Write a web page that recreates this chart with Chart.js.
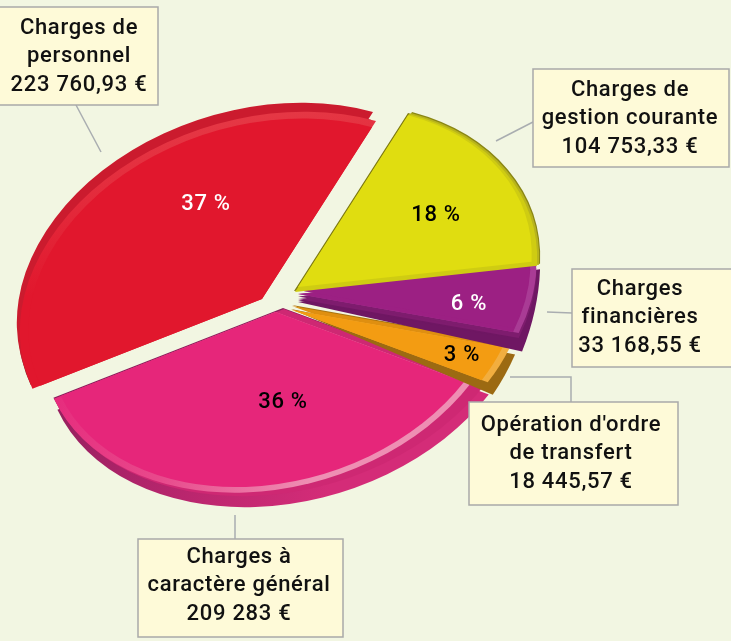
<!DOCTYPE html>
<html lang="fr">
<head>
<meta charset="utf-8">
<title>Charges</title>
<script src="https://cdn.jsdelivr.net/npm/chart.js@4"></script>
<style>
  html, body { margin: 0; padding: 0; background: #f2f6e2; }
  canvas { display: block; }
</style>
</head>
<body>
<canvas id="pie" width="731" height="641"></canvas>
<script>
// Data, clockwise from the yellow slice
const categories = ['Charges de gestion courante', 'Charges financières', "Opération d'ordre de transfert", 'Charges à caractère général', 'Charges de personnel'];
const amounts = [104753.33, 33168.55, 18445.57, 209283, 223760.93];
const percents = ['18 %', '6 %', '3 %', '36 %', '37 %'];
const amountLabels = ['104 753,33 €', '33 168,55 €', '18 445,57 €', '209 283 €', '223 760,93 €'];
const boxLines = [
    ['Charges de', 'gestion courante'],
    ['Charges', 'financières'],
    ["Opération d'ordre", 'de transfert'],
    ['Charges à', 'caractère général'],
    ['Charges de', 'personnel'],
];

// Perspective of the disc: where the unit circle lands on screen
const RIM = [213.7, 57.8, -114, 178];
const APEX = [[295, 292], [298, 299], [292, 306], [284, 309], [262, 299]];
const DRAW_ORDER = [4, 3, 2, 1, 0];

// Stacked layers per slice, painted back to front
const LAYERS = [
    [ // yellow
        { dx: -1, dy: -1, fill: '#7f7b12' },
        { dx: 3, dy: -2, fill: '#8a8614' },
        { dx: 2, dy: -1, fill: '#b8b41c' },
        { fill: '#cfcc12' },
        { dx: 3, dy: -5, s: 0.965, fill: '#e0dd10' },
    ],
    [ // purple
        { dy: 3, sy: 1.25, fill: '#6f1763' },
        { dy: 1.5, s: 0.9, fill: '#6f1763' },
        { s: 0.985, fill: '#7e1c6e' },
        { dy: -2.5, s: 0.9, fill: '#7e1c6e' },
        { dy: -5, s: 0.985, fill: '#a93b95' },
        { dy: -9, s: 0.985, fill: '#a93b95' },
        { dy: -5, s: 0.96, fill: '#9c2083' },
        { dy: -9, s: 0.96, fill: '#9c2083' },
    ],
    [ // orange
        { dx: -1, dy: 3, sy: 1.15, fill: '#9c6a12' },
        { dy: -1, s: 0.97, fill: '#a87410' },
        { s: 0.97, fill: '#df8f10' },
        { dy: 4, s: 0.97, fill: '#f2ae3f' },
        { dy: 4, s: 0.94, fill: '#f39c12' },
    ],
    [ // pink
        { dx: -1, dy: -1, fill: '#8a1f5b' },
        { dx: 3, dy: 11, fill: [[60, 0, '#7f1c55'], [240, 0, '#b0246a'], [440, 0, '#d42c78']] },
        { fill: '#ce2873' },
        { dx: -8.5, dy: 3.1, s: 0.965, fill: [[120, 0, '#e6267a'], [260, 0, '#e84a8c'], [420, 0, '#ee8fb3']] },
        { dx: -8.5, dy: 3.1, s: 0.935, fill: '#e6267a' },
    ],
    [ // red
        { dx: -4, dy: -3, s: 0.99, fill: '#7e2125' },
        { dx: -3, dy: -9, fill: '#cb1b2e' },
        { fill: [[0, 110, '#e6404b'], [0, 300, '#e1172d']] },
        { s: 0.965, fill: '#e1172d' },
    ],
];

// Annotation layout
const PERCENT_AT = [[436, 215], [469, 304], [462, 355], [283, 402], [206, 204]];
const PERCENT_COLOR = ['#000', '#fff', '#000', '#000', '#fff'];
const BOX = [[533, 69, 196, 98], [572, 269, 170, 98], [469, 402, 209, 103], [138, 539, 205, 98], [-2, 7, 160, 98]];
const TEXT_CX = [630, 640, 571, 239, 79];
const TEXT_Y = [90, 289, 425, 557, 28];
const LEADERS = [
    [[533, 122], [496, 141]],
    [[572, 313], [547, 312]],
    [[510, 377], [571, 377], [571, 402]],
    [[235, 515], [235, 539]],
    [[76, 105], [101, 152]],
];

function paintLayer(ctx, arc, apex, layer) {
    const R = arc.outerRadius;
    ctx.save();
    ctx.translate(apex[0] + (layer.dx || 0), apex[1] + (layer.dy || 0));
    ctx.scale(layer.sx || layer.s || 1, layer.sy || layer.s || 1);
    ctx.transform(RIM[0] / R, RIM[1] / R, RIM[2] / R, RIM[3] / R, 0, 0);
    ctx.translate(-arc.x, -arc.y);

    let fill = layer.fill;
    if (Array.isArray(fill)) {
        // gradient stops are given in page pixels, so map them back through the current transform
        const inv = ctx.getTransform().inverse();
        const first = inv.transformPoint({ x: fill[0][0], y: fill[0][1] });
        const last = inv.transformPoint({ x: fill[fill.length - 1][0], y: fill[fill.length - 1][1] });
        const grad = ctx.createLinearGradient(first.x, first.y, last.x, last.y);
        fill.forEach((s, i) => grad.addColorStop(i / (fill.length - 1), s[2]));
        fill = grad;
    }

    const ghost = Object.create(arc);
    ghost.options = {
        backgroundColor: fill, borderColor: 'transparent', borderWidth: 0, borderAlign: 'center',
        borderRadius: 0, borderJoinStyle: 'round', offset: 0, spacing: 0, circular: true,
    };
    ghost.draw(ctx);
    ctx.restore();
}

const tiltedPie = {
    id: 'tiltedPie',
    beforeDatasetsDraw(chart) {
        const ctx = chart.ctx;
        const arcs = chart.getDatasetMeta(0).data;
        DRAW_ORDER.forEach(i => {
            LAYERS[i].forEach(layer => paintLayer(ctx, arcs[i], APEX[i], layer));
        });
        return false;
    },
    afterDraw(chart) {
        const ctx = chart.ctx;
        ctx.save();

        ctx.strokeStyle = '#a9adb0';
        ctx.lineWidth = 1.5;
        LEADERS.forEach(pts => {
            ctx.beginPath();
            pts.forEach((p, i) => (i ? ctx.lineTo(p[0], p[1]) : ctx.moveTo(p[0], p[1])));
            ctx.stroke();
        });

        ctx.textAlign = 'center';
        ctx.textBaseline = 'middle';
        ctx.letterSpacing = '0.7px';
        ctx.font = '500 22px Roboto';

        BOX.forEach((b, i) => {
            ctx.fillStyle = '#fefad8';
            ctx.fillRect(b[0], b[1], b[2], b[3]);
            ctx.strokeStyle = '#a9a9a9';
            ctx.strokeRect(b[0], b[1], b[2], b[3]);
            ctx.fillStyle = '#111';
            const lines = boxLines[i].concat(amountLabels[i]);
            lines.forEach((line, k) => ctx.fillText(line, TEXT_CX[i], TEXT_Y[i] + k * 28.7));
        });

        percents.forEach((p, i) => {
            ctx.fillStyle = PERCENT_COLOR[i];
            ctx.fillText(p, PERCENT_AT[i][0], PERCENT_AT[i][1]);
        });
        ctx.restore();
    },
};

new Chart(document.getElementById('pie'), {
    type: 'pie',
    data: {
        labels: categories,
        datasets: [{ data: amounts, borderWidth: 0, backgroundColor: '#e1172d' }],
    },
    options: {
        responsive: false,
        animation: false,
        rotation: 0,
        plugins: { legend: { display: false }, tooltip: { enabled: false } },
    },
    plugins: [tiltedPie],
});
</script>
</body>
</html>
